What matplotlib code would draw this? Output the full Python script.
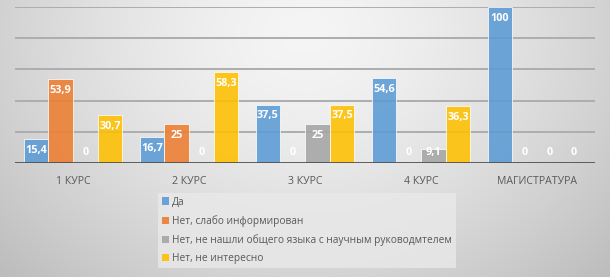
import numpy as np
import matplotlib
matplotlib.use("Agg")
import matplotlib.pyplot as plt
from matplotlib.patches import Patch

categories = ["1 КУРС", "2 КУРС", "3 КУРС", "4 КУРС", "МАГИСТРАТУРА"]
series_names = ["Да", "Нет, слабо информирован",
                "Нет, не нашли общего языка с научным руководмтелем",
                "Нет, не интересно"]
da = [15.4, 16.7, 37.5, 54.6, 100]
slabo = [53.9, 25, 0, 0, 0]
ne_nashli = [0, 0, 25, 9.1, 0]
ne_interesno = [30.7, 58.3, 37.5, 36.3, 0]
labels_da = ["15,4", "16,7", "37,5", "54,6", "100"]
labels_slabo = ["53,9", "25", "0", "0", "0"]
labels_nashli = ["0", "0", "25", "9,1", "0"]
labels_int = ["30,7", "58,3", "37,5", "36,3", "0"]

colors = ["#5B9BD5", "#ED7D31", "#A5A5A5", "#FFC000"]

plt.rcParams['font.family'] = ['Open Sans', 'DejaVu Sans']

W, H = 610, 277
fig = plt.figure(figsize=(W / 100, H / 100), dpi=100)

# background gradient
bg = fig.add_axes([0, 0, 1, 1], zorder=-10)
yy, xx = np.mgrid[0:H, 0:W]
cx, cy = W * 0.5, H * 0.12
r = np.sqrt(((xx - cx) / (W * 0.6)) ** 2 + ((yy - cy) / (H * 1.1)) ** 2)
val = np.clip(0.96 - 0.18 * r ** 1.5, 0, 1)
img = np.dstack([val, val, val])
bg.imshow(img, aspect='auto', extent=[0, 1, 0, 1], origin='upper')
bg.axis('off')

ax = fig.add_axes([15 / W, (H - 163) / H, 580 / W, 156 / H])
ax.patch.set_alpha(0)
ax.set_xlim(-0.5, 4.5)
ax.set_ylim(0, 100)

x = np.arange(len(categories))
w = 0.213
all_series = [da, slabo, ne_nashli, ne_interesno]
all_labels = [labels_da, labels_slabo, labels_nashli, labels_int]
for i, (vals, labs) in enumerate(zip(all_series, all_labels)):
    pos = x + (i - 1.5) * w
    ax.bar(pos, vals, width=w, color=colors[i], alpha=0.88,
           edgecolor=(1, 1, 1, 0.35), linewidth=0.6, zorder=3)
    for p, v, t in zip(pos, vals, labs):
        ly = max(v - 7.3, 7.0)
        ax.text(p, ly, t, ha='center', va='center', color='white',
                fontsize=7.8, fontweight='bold', zorder=5)

for g in [20, 40, 60, 80, 100]:
    ax.axhline(g, color='#adadad', lw=1.4, zorder=1)
ax.axhline(0, color='#505050', lw=2.0, zorder=4)

for s in ax.spines.values():
    s.set_visible(False)
ax.set_yticks([])
ax.set_xticks(x)
ax.set_xticklabels(categories, fontsize=7.6, color='#595959')
ax.tick_params(axis='x', length=0, pad=9)

handles = [Patch(facecolor=c, edgecolor='none', alpha=0.9) for c in colors]
leg = fig.legend(handles, series_names, loc='upper left',
                 bbox_to_anchor=(158 / W, 1 - 193 / H),
                 fontsize=7.3, frameon=True, fancybox=False,
                 handlelength=0.7, handleheight=0.7, handletextpad=0.35,
                 labelspacing=0.72, borderpad=0.35, borderaxespad=0)
leg.get_frame().set_facecolor('#e9e9e9')
leg.get_frame().set_edgecolor('none')
leg.get_frame().set_alpha(0.8)
for t in leg.get_texts():
    t.set_color('#595959')

fig.savefig("out.png", dpi=100)
